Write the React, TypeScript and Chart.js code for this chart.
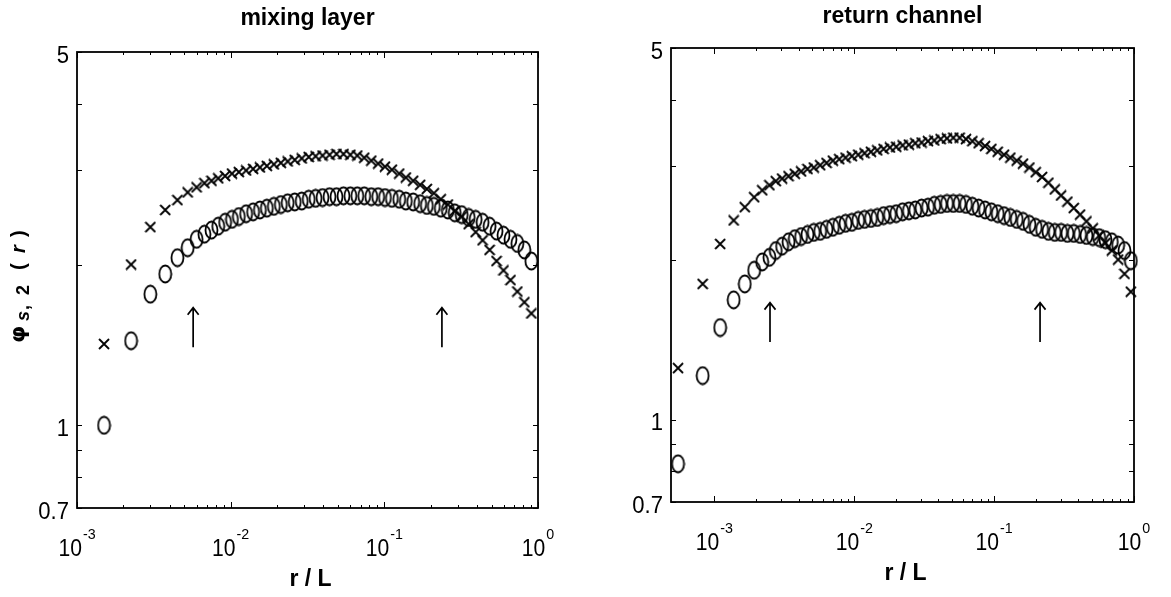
import React, { useEffect, useRef } from "react";
import { Chart, registerables } from "chart.js";

Chart.register(...registerables);

const FONT = '"Liberation Sans", Arial, Helvetica, sans-serif';

// ---- mixing layer ----
const mixR = [
  0.0015, 0.00225, 0.003, 0.00375, 0.0045, 0.00525, 0.006, 0.00675,
  0.0075, 0.0083, 0.0092, 0.0102, 0.0113, 0.0126, 0.014, 0.0155, 0.0172, 0.0191,
  0.0212, 0.0235, 0.0261, 0.029, 0.0322, 0.0357, 0.0396, 0.044, 0.0488, 0.0542,
  0.0601, 0.0667, 0.074, 0.0822, 0.0912, 0.101, 0.112, 0.125, 0.138, 0.154,
  0.171, 0.189, 0.21, 0.233, 0.259, 0.287, 0.319, 0.354, 0.393, 0.436, 0.484,
  0.537, 0.596, 0.662, 0.734, 0.815, 0.905,
];
const mixCross = [
  1.42, 2.0, 2.35, 2.53, 2.64, 2.73, 2.79, 2.84,
  2.87, 2.9, 2.93, 2.96, 2.98, 3.0, 3.02, 3.04, 3.06, 3.08,
  3.1, 3.12, 3.14, 3.16, 3.18, 3.19, 3.2, 3.21, 3.22, 3.22,
  3.21, 3.2, 3.17, 3.13, 3.09, 3.05, 3.01, 2.96, 2.91, 2.87,
  2.82, 2.77, 2.72, 2.65, 2.59, 2.52, 2.46, 2.38, 2.3, 2.22, 2.13,
  2.03, 1.95, 1.87, 1.78, 1.7, 1.62,
];
const mixCircle = [
  1.0, 1.44, 1.76, 1.92, 2.06, 2.15, 2.23, 2.28,
  2.32, 2.36, 2.4, 2.43, 2.46, 2.49, 2.51, 2.53, 2.55, 2.57,
  2.59, 2.61, 2.62, 2.63, 2.65, 2.66, 2.67, 2.68, 2.68, 2.69,
  2.69, 2.69, 2.69, 2.68, 2.68, 2.67, 2.66, 2.65, 2.63, 2.62,
  2.6, 2.58, 2.57, 2.55, 2.53, 2.5, 2.48, 2.45, 2.43, 2.4, 2.36,
  2.31, 2.27, 2.23, 2.19, 2.13, 2.03,
];
const mixArrowR = [0.0057, 0.237];

// ---- return channel ----
const retR = [
  0.00055, 0.000825, 0.0011, 0.001375, 0.00165, 0.001925, 0.0022, 0.002475,
  0.00275, 0.00305, 0.00339, 0.00376, 0.00417, 0.00463, 0.00514, 0.00571, 0.00634,
  0.00703, 0.00781, 0.00867, 0.00962, 0.01068, 0.01185, 0.01316, 0.0146, 0.01621,
  0.01799, 0.01997, 0.02217, 0.02461, 0.02731, 0.03032, 0.03365, 0.03736, 0.04147,
  0.04603, 0.05109, 0.05671, 0.06295, 0.06987, 0.07756, 0.08609, 0.09556, 0.10607,
  0.11774, 0.13069, 0.14507, 0.16103, 0.17874, 0.1984, 0.22023, 0.24445, 0.27134,
  0.30119, 0.33432, 0.3711, 0.41192, 0.45723, 0.50752, 0.56335, 0.62532, 0.69411,
  0.77046, 0.85521, 0.94929,
];
const retCross = [
  1.25, 1.8, 2.14, 2.37, 2.51, 2.62, 2.7, 2.76,
  2.81, 2.84, 2.87, 2.9, 2.93, 2.96, 2.98, 3.01, 3.04,
  3.07, 3.09, 3.11, 3.13, 3.15, 3.17, 3.19, 3.21, 3.23,
  3.25, 3.26, 3.28, 3.29, 3.31, 3.32, 3.34, 3.35, 3.37,
  3.38, 3.39, 3.39, 3.37, 3.34, 3.31, 3.27, 3.23, 3.19,
  3.15, 3.11, 3.07, 3.03, 2.98, 2.92, 2.86, 2.79, 2.71,
  2.64, 2.57, 2.5, 2.43, 2.36, 2.29, 2.22, 2.15, 2.08,
  2.0, 1.88, 1.74,
];
const retCircle = [
  0.826, 1.21, 1.49, 1.68, 1.8, 1.91, 1.98, 2.02,
  2.08, 2.12, 2.16, 2.19, 2.21, 2.23, 2.25, 2.26, 2.28,
  2.3, 2.32, 2.34, 2.35, 2.37, 2.38, 2.39, 2.4, 2.42,
  2.43, 2.44, 2.46, 2.47, 2.48, 2.5, 2.51, 2.53, 2.54,
  2.55, 2.55, 2.55, 2.54, 2.52, 2.5, 2.48, 2.46, 2.44,
  2.42, 2.4, 2.38, 2.36, 2.33, 2.3, 2.28, 2.26, 2.25,
  2.25, 2.24, 2.24, 2.23, 2.22, 2.21, 2.2, 2.18, 2.16,
  2.13, 2.08, 1.99,
];
const retArrowR = [0.0025, 0.213];

// ---- shared axis settings ----
const arrowSpan = [1.4, 1.66];
const yMin = 0.7;
const yMax = 5;
const yTickValues = [0.7, 1, 5];
const yTickLabels = ["0.7", "1", "5"];
const yMinorValues = [0.8, 0.9, 2, 3, 4];
const xDecades = [0.001, 0.01, 0.1, 1];
const xDecadeExponents = ["-3", "-2", "-1", "0"];
const xMinorMultipliers = [2, 3, 4, 5, 6, 7, 8, 9];

function makeCircleImage() {
  const c = document.createElement("canvas");
  c.width = 15;
  c.height = 20;
  const g = c.getContext("2d")!;
  g.strokeStyle = "#000";
  g.lineWidth = 1.8;
  g.beginPath();
  g.ellipse(7.5, 10, 6.0, 8.5, 0, 0, Math.PI * 2);
  g.stroke();
  return c;
}

function makeCrossImage() {
  const c = document.createElement("canvas");
  c.width = 12;
  c.height = 12;
  const g = c.getContext("2d")!;
  g.strokeStyle = "#000";
  g.lineWidth = 1.8;
  g.beginPath();
  g.moveTo(1, 1);
  g.lineTo(11, 11);
  g.moveTo(11, 1);
  g.lineTo(1, 11);
  g.stroke();
  return c;
}

function textScaled(
  ctx: CanvasRenderingContext2D,
  text: string,
  x: number,
  y: number,
  sx: number
) {
  ctx.save();
  ctx.translate(x, y);
  ctx.scale(sx, 1);
  ctx.fillText(text, 0, 0);
  ctx.restore();
}

type PanelCfg = {
  left: number;
  width: number;
  padding: { left: number; right: number; top: number; bottom: number };
  r: number[];
  cross: number[];
  circle: number[];
  arrows: number[];
  xMin: number;
  title: string;
  titleBaseline: number;
  showYTitle: boolean;
};

function framePlugin(cfg: PanelCfg) {
  return {
    id: "frame",
    afterDraw(chart: any) {
      const ctx: CanvasRenderingContext2D = chart.ctx;
      const xs = chart.scales.x;
      const ys = chart.scales.y;
      const a = chart.chartArea;
      ctx.save();
      ctx.strokeStyle = "#000";
      ctx.fillStyle = "#000";

      // box
      ctx.lineWidth = 1.8;
      ctx.strokeRect(a.left, a.top, a.right - a.left, a.bottom - a.top);

      // x ticks (inside, bottom and top)
      ctx.lineWidth = 1;
      ctx.beginPath();
      xDecades.forEach((d) => {
        [1, ...xMinorMultipliers].forEach((m) => {
          const v = d * m;
          if (v < cfg.xMin * 0.999 || v > 1.0001) return;
          const px = Math.round(xs.getPixelForValue(v)) + 0.5;
          const len = m === 1 ? 6 : 3;
          ctx.moveTo(px, a.bottom);
          ctx.lineTo(px, a.bottom - len);
          ctx.moveTo(px, a.top);
          ctx.lineTo(px, a.top + len);
        });
      });
      // y ticks
      [...yTickValues, ...yMinorValues].forEach((v) => {
        const py = Math.round(ys.getPixelForValue(v)) + 0.5;
        ctx.moveTo(a.left, py);
        ctx.lineTo(a.left + 5, py);
        ctx.moveTo(a.right, py);
        ctx.lineTo(a.right - 5, py);
      });
      ctx.stroke();

      // y tick labels
      ctx.font = `24px ${FONT}`;
      ctx.textAlign = "right";
      ctx.textBaseline = "middle";
      yTickValues.forEach((v, i) => {
        const py = ys.getPixelForValue(v);
        ctx.save();
        ctx.translate(a.left - 8, py + 4);
        ctx.scale(0.92, 1);
        ctx.fillText(yTickLabels[i], 0, 0);
        ctx.restore();
      });

      // x tick labels: 10 with superscript exponent
      ctx.textAlign = "left";
      ctx.textBaseline = "alphabetic";
      xDecades.forEach((d, i) => {
        if (d < cfg.xMin) return;
        const px = xs.getPixelForValue(d);
        ctx.font = `24px ${FONT}`;
        const wBase = ctx.measureText("10").width * 0.88;
        ctx.font = `15px ${FONT}`;
        const wExp = ctx.measureText(xDecadeExponents[i]).width * 0.95;
        const x0 = px - (wBase + wExp + 1) / 2;
        ctx.font = `24px ${FONT}`;
        textScaled(ctx, "10", x0, a.bottom + 48, 0.88);
        ctx.font = `15px ${FONT}`;
        textScaled(ctx, xDecadeExponents[i], x0 + wBase + 1, a.bottom + 31, 0.95);
      });

      // x axis title
      ctx.font = `bold 23px ${FONT}`;
      ctx.textAlign = "center";
      const cx = (a.left + a.right) / 2 + 3;
      ctx.fillText("r / L", cx, a.bottom + 78);

      // panel title
      ctx.font = `bold 23px ${FONT}`;
      ctx.fillText(cfg.title, (a.left + a.right) / 2, cfg.titleBaseline);

      // arrows
      ctx.lineWidth = 1.7;
      cfg.arrows.forEach((rv) => {
        const px = xs.getPixelForValue(rv);
        const yb = ys.getPixelForValue(arrowSpan[0]);
        const yt = ys.getPixelForValue(arrowSpan[1]);
        ctx.beginPath();
        ctx.moveTo(px, yb);
        ctx.lineTo(px, yt);
        ctx.moveTo(px - 5.5, yt + 7);
        ctx.lineTo(px, yt);
        ctx.lineTo(px + 5.5, yt + 7);
        ctx.stroke();
      });

      // y axis title: phi_{s,2}(r), read bottom to top
      if (cfg.showYTitle) {
        ctx.save();
        ctx.translate(19, 343);
        ctx.rotate(-Math.PI / 2);
        ctx.textAlign = "left";
        ctx.textBaseline = "middle";
        ctx.font = `bold 22px "DejaVu Sans", ${FONT}`;
        ctx.fillText("\u03c6", 0, 0);
        ctx.font = `italic bold 18px ${FONT}`;
        ctx.fillText("s", 22, 5);
        ctx.font = `bold 18px ${FONT}`;
        ctx.fillText(",", 33, 5);
        ctx.fillText("2", 48, 5);
        ctx.font = `bold 20px ${FONT}`;
        ctx.fillText("(", 73, 0);
        ctx.font = `italic bold 20px ${FONT}`;
        ctx.fillText("r", 90, 0);
        ctx.font = `bold 20px ${FONT}`;
        ctx.fillText(")", 106, 0);
        ctx.restore();
      }
      ctx.restore();
    },
  };
}

function Panel({ cfg }: { cfg: PanelCfg }) {
  const ref = useRef<HTMLCanvasElement>(null);
  useEffect(() => {
    const crossImg = makeCrossImage();
    const circleImg = makeCircleImage();
    const chart = new Chart(ref.current!, {
      type: "scatter",
      data: {
        datasets: [
          {
            data: cfg.r.map((x, i) => ({ x, y: cfg.cross[i] })),
            pointStyle: crossImg as any,
            pointRadius: 6,
            clip: false as any,
          },
          {
            data: cfg.r.map((x, i) => ({ x, y: cfg.circle[i] })),
            pointStyle: circleImg as any,
            pointRadius: 8,
            clip: false as any,
          },
        ],
      },
      options: {
        responsive: false,
        animation: false,
        events: [],
        layout: { padding: cfg.padding },
        scales: {
          x: { type: "logarithmic", min: cfg.xMin, max: 1, display: false },
          y: { type: "logarithmic", min: yMin, max: yMax, display: false },
        },
        plugins: {
          legend: { display: false },
          tooltip: { enabled: false },
          title: { display: false },
        },
      },
      plugins: [framePlugin(cfg)],
    });
    return () => chart.destroy();
  }, [cfg]);
  return (
    <canvas
      ref={ref}
      width={cfg.width}
      height={597}
      style={{ position: "absolute", left: cfg.left, top: 0, width: cfg.width, height: 597 }}
    />
  );
}

const mixingPanel: PanelCfg = {
  left: 0,
  width: 585,
  padding: { left: 77, right: 47, top: 52, bottom: 89 },
  r: mixR,
  cross: mixCross,
  circle: mixCircle,
  arrows: mixArrowR,
  xMin: 0.001,
  title: "mixing layer",
  titleBaseline: 25,
  showYTitle: true,
};

const returnPanel: PanelCfg = {
  left: 585,
  width: 586,
  padding: { left: 86, right: 37, top: 48, bottom: 95 },
  r: retR,
  cross: retCross,
  circle: retCircle,
  arrows: retArrowR,
  xMin: 0.00049,
  title: "return channel",
  titleBaseline: 23,
  showYTitle: false,
};

export default function App() {
  return (
    <div
      style={{
        position: "fixed",
        left: 0,
        top: 0,
        width: 1171,
        height: 597,
        background: "#fff",
        overflow: "hidden",
      }}
    >
      <Panel cfg={mixingPanel} />
      <Panel cfg={returnPanel} />
    </div>
  );
}
